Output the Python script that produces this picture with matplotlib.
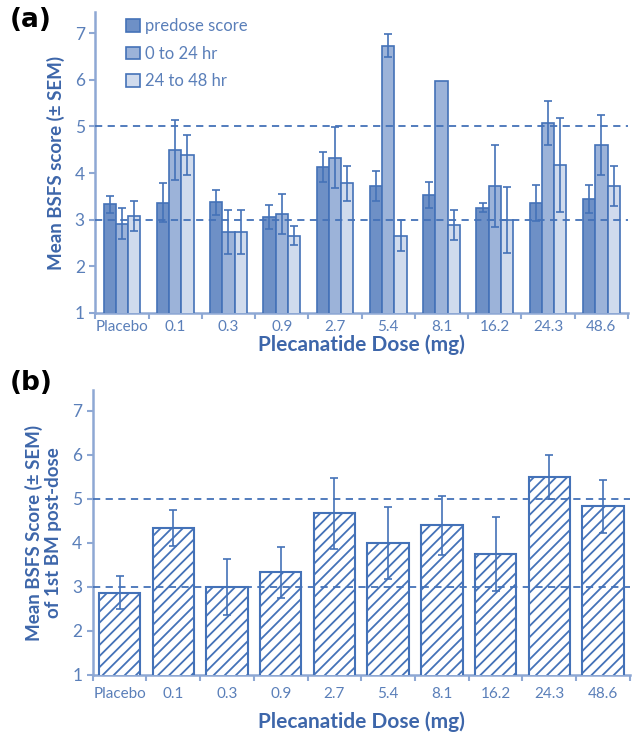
import numpy as np
import matplotlib
matplotlib.use("Agg")
from matplotlib import pyplot as plt

doses = ["Placebo", "0.1", "0.3", "0.9", "2.7", "5.4", "8.1", "16.2", "24.3", "48.6"]

# panel (a): mean score and SEM per period
predose = [3.33, 3.36, 3.37, 3.05, 4.13, 3.72, 3.53, 3.26, 3.36, 3.44]
predose_sem = [0.18, 0.42, 0.27, 0.26, 0.32, 0.32, 0.28, 0.10, 0.38, 0.30]
h0_24 = [2.91, 4.49, 2.74, 3.12, 4.33, 6.73, 5.98, 3.72, 5.08, 4.60]
h0_24_sem = [0.33, 0.64, 0.47, 0.43, 0.65, 0.25, 0.0, 0.87, 0.47, 0.64]
h24_48 = [3.07, 4.39, 2.74, 2.66, 3.78, 2.66, 2.89, 2.99, 4.17, 3.72]
h24_48_sem = [0.32, 0.43, 0.47, 0.20, 0.38, 0.33, 0.32, 0.70, 1.00, 0.43]

# panel (b): score of first BM post-dose
first_bm = [2.87, 4.33, 3.00, 3.33, 4.67, 4.00, 4.40, 3.75, 5.49, 4.83]
first_bm_sem = [0.37, 0.41, 0.63, 0.57, 0.80, 0.82, 0.67, 0.85, 0.50, 0.60]

edge = "#4472b8"
txt = "#5a7fb9"
lab = "#3d66aa"
spine = "#8ea8d4"

plt.rcParams['font.family'] = ['Lato', 'DejaVu Sans']
plt.rcParams['hatch.linewidth'] = 1.3

fig = plt.figure(figsize=(6.35, 7.34), dpi=100)
ax1 = fig.add_axes([0.150, 0.5736, 0.839, 0.410])
ax2 = fig.add_axes([0.146, 0.0804, 0.846, 0.388])

x = np.arange(len(doses))


def style(ax, ylabel, top, tpad, xpad):
    ax.set_xlim(-0.5, len(doses) - 0.5)
    ax.set_ylim(1, top)
    ax.set_yticks(range(1, 8))
    ax.set_xticks(x)
    ax.set_xticklabels(doses)
    ax.set_xticks(np.arange(-0.5, len(doses)), minor=True)
    ax.tick_params(axis='x', which='major', length=0, labelsize=11, labelcolor=txt, pad=tpad)
    ax.tick_params(axis='x', which='minor', length=4, width=1.5, color=spine)
    ax.tick_params(axis='y', length=4, width=1.5, color=spine, labelsize=12.5, labelcolor=txt)
    for s in ['top', 'right']:
        ax.spines[s].set_visible(False)
    for s in ['left', 'bottom']:
        ax.spines[s].set_color(spine)
        ax.spines[s].set_linewidth(1.8)
    for yv in [3, 5]:
        ax.axhline(yv, color=edge, ls=(0, (4, 3)), lw=1.3, zorder=5)
    ax.set_xlabel("Plecanatide Dose (mg)", fontsize=15, fontweight='bold', color=lab, labelpad=xpad)
    ax.set_ylabel(ylabel, fontsize=13.5, fontweight='bold', color=lab, labelpad=7,
                  linespacing=1.15)


w = 0.23
ek = dict(ecolor=edge, elinewidth=1.2, capsize=3, capthick=1.2)
ax1.bar(x - w, predose, w, bottom=0, yerr=predose_sem, color="#6e90c6",
        edgecolor=edge, lw=1.2, label="predose score", error_kw=ek, zorder=3)
ax1.bar(x, h0_24, w, yerr=[e if e > 0 else np.nan for e in h0_24_sem], color="#9cb3d9",
        edgecolor=edge, lw=1.2, label="0 to 24 hr", error_kw=ek, zorder=3)
ax1.bar(x + w, h24_48, w, yerr=h24_48_sem, color="#d0dbed",
        edgecolor=edge, lw=1.2, label="24 to 48 hr", error_kw=ek, zorder=3)
style(ax1, "Mean BSFS score (± SEM)", 7.45, 5, 0)
leg = ax1.legend(loc='upper left', bbox_to_anchor=(0.03, 1.03), frameon=False, fontsize=12,
                 handlelength=0.8, handleheight=0.8, handletextpad=0.3, labelspacing=0.7)
for t in leg.get_texts():
    t.set_color(txt)

ax2.bar(x, first_bm, 0.77, yerr=first_bm_sem, color="white", edgecolor=edge, lw=1.5,
        hatch='///', error_kw=ek, zorder=3)
style(ax2, "Mean BSFS Score (± SEM)\nof 1st BM post-dose", 7.47, 9, 7)

fig.text(0.015, 0.963, "(a)", fontsize=19, fontweight='bold', color='black',
         family=['DejaVu Sans'])
fig.text(0.015, 0.468, "(b)", fontsize=19, fontweight='bold', color='black',
         family=['DejaVu Sans'])

fig.savefig("out.png", dpi=100)
